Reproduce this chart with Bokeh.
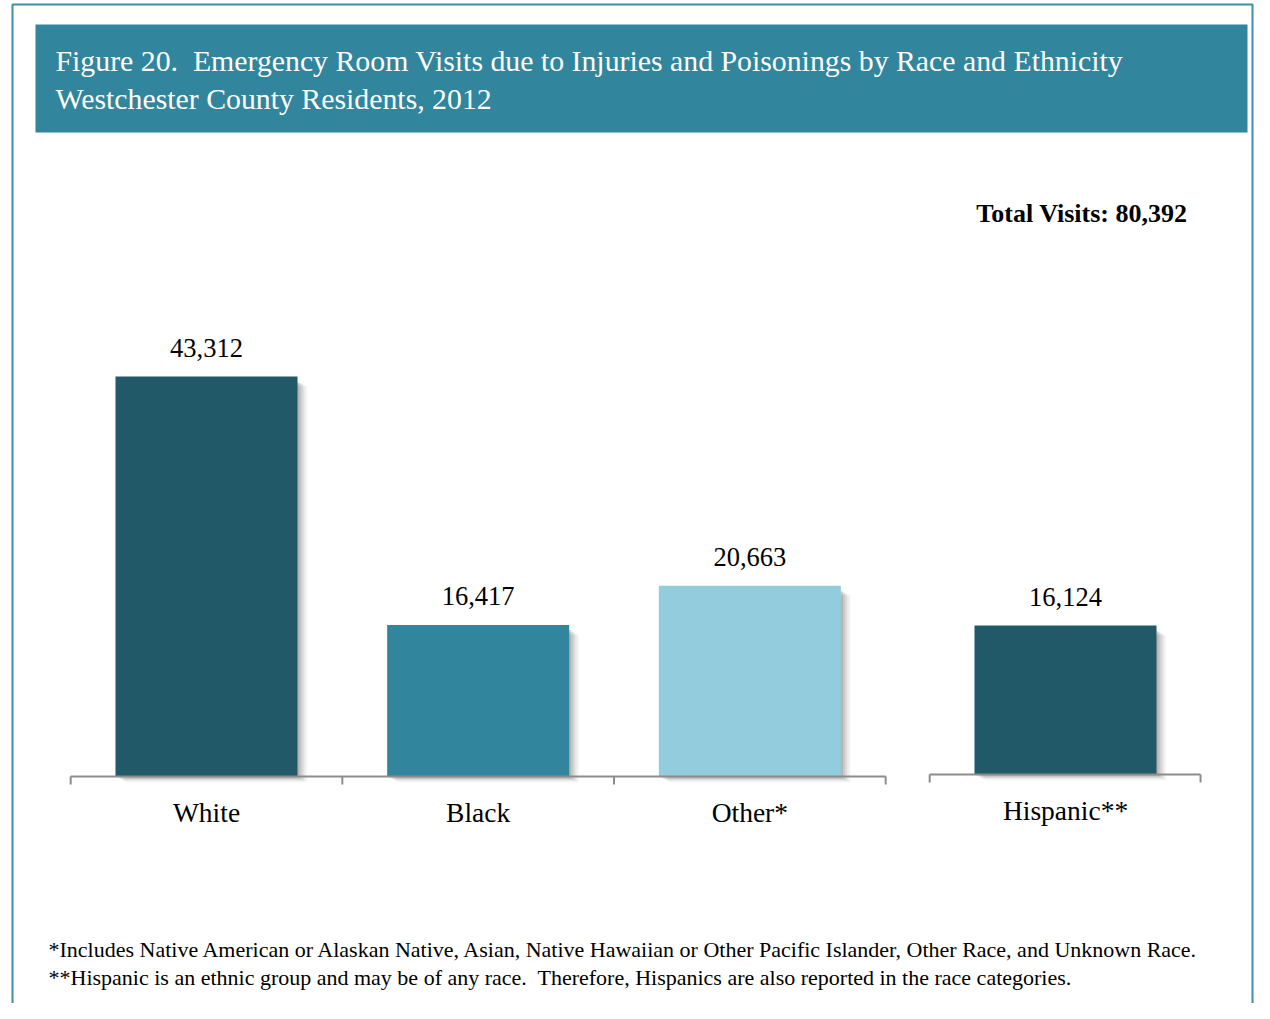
from bokeh.plotting import figure
from bokeh.models import Range1d
from bokeh.core.properties import value
from bokeh.embed import file_html
from bokeh.resources import INLINE

# ---------------- data ----------------
race_categories = ["White", "Black", "Other*"]
race_visits = [43312, 16417, 20663]
eth_categories = ["Hispanic**"]
eth_visits = [16124]
total_visits = 80392

NB = "\u00a0"
title_lines = [
    "Figure 20." + NB + " Emergency Room Visits due to Injuries and Poisonings by Race and Ethnicity",
    "Westchester County Residents, 2012",
]
footnotes = [
    "*Includes Native American or Alaskan Native, Asian, Native Hawaiian or Other Pacific Islander, Other Race, and Unknown Race.",
    "**Hispanic is an ethnic group and may be of any race." + NB + " Therefore, Hispanics are also reported in the race categories.",
]

race_colors = ["#215968", "#31859C", "#93CDDD"]
eth_colors = ["#215968"]

# ---------------- layout / scales ----------------
W, H = 1254, 1003
MARGIN = 0
XU = 271.67                 # pixels per category
YS = 400.0 / 43312.0        # pixels per visit
X0_PAGE = 206               # page x of first category centre
BASE_PAGE = 776             # page y of baseline
x_start = -(X0_PAGE - MARGIN) / XU
x_end = x_start + W / XU
y_start = -(H - (BASE_PAGE - MARGIN)) / YS
y_end = y_start + H / YS


def X(px):
    return x_start + (px - MARGIN) / XU


def Y(py):
    return y_start + (H - (py - MARGIN)) / YS


group_gap = 44 / XU
bar_w = 0.67
eth_lift = 2 / YS

FONT = value("Liberation Serif")

p = figure(width=W, height=H, x_range=Range1d(x_start, x_end), y_range=Range1d(y_start, y_end),
           output_backend="svg", toolbar_location=None, x_axis_type=None, y_axis_type=None,
           min_border=0, min_border_left=0, min_border_right=0, min_border_top=0, min_border_bottom=0,
           outline_line_color=None, background_fill_color="white", border_fill_color="white")

# outer frame
p.line(x=[X(12), X(12), X(1252), X(1252)], y=[Y(1030), Y(4), Y(4), Y(1030)],
       line_color="#3F8FA6", line_width=2)

# title band
p.quad(left=[X(35)], right=[X(1247)], top=[Y(24)], bottom=[Y(132)],
       fill_color="#31859C", line_color=None)
p.text(x=[X(55), X(55)], y=[Y(60), Y(98)], text=title_lines, text_color="white",
       text_font=FONT, text_font_size="29.8px", text_align="left", text_baseline="alphabetic")

# total
p.text(x=[X(1187)], y=[Y(213)], text=[f"Total Visits: {total_visits:,}"], text_color="black",
       text_font=FONT, text_font_size="26px", text_font_style="bold",
       text_align="right", text_baseline="alphabetic")

# positions
race_x = list(range(len(race_categories)))
eth_x = [len(race_categories) + group_gap + i for i in range(len(eth_categories))]
eth_base = [eth_lift] * len(eth_categories)
race_base = [0] * len(race_categories)

all_x = race_x + eth_x
all_base = race_base + eth_base
all_vals = race_visits + eth_visits
all_tops = [b + v for b, v in zip(all_base, all_vals)]
all_colors = race_colors + eth_colors
all_cats = race_categories + eth_categories

# shadows
for k, a in [(2, 0.10), (4, 0.08), (6, 0.07), (8, 0.05), (10, 0.03)]:
    dx = k / XU
    dy = (k * 0.6) / YS
    p.quad(left=[x - bar_w / 2 + dx for x in all_x], right=[x + bar_w / 2 + dx for x in all_x],
           top=[t - dy - 4 / YS for t in all_tops], bottom=[b - dy for b in all_base],
           fill_color="black", fill_alpha=a, line_color=None)

# bars
p.vbar(x=all_x, top=all_tops, bottom=all_base, width=bar_w, fill_color=all_colors, line_color=None)

# axes (category boundaries)
race_edges = [x - 0.5 for x in race_x] + [race_x[-1] + 0.5]
eth_edges = [eth_x[0] - 0.5, eth_x[-1] + 0.497]
tick = 8 / YS
AX = "#8C8C8C"
p.line(x=[race_edges[0], race_edges[-1]], y=[0, 0], line_color=AX, line_width=2)
p.segment(x0=race_edges, y0=[0] * len(race_edges), x1=race_edges, y1=[-tick] * len(race_edges),
          line_color=AX, line_width=2)
p.line(x=[eth_edges[0], eth_edges[-1]], y=[eth_lift, eth_lift], line_color=AX, line_width=2)
p.segment(x0=eth_edges, y0=[eth_lift] * 2, x1=eth_edges, y1=[eth_lift - tick] * 2,
          line_color=AX, line_width=2)

# value labels
p.text(x=all_x, y=all_tops, text=[f"{v:,}" for v in all_vals], text_color="black",
       text_font=FONT, text_font_size="26.5px", text_align="center", text_baseline="alphabetic",
       y_offset=-29)

# category labels
p.text(x=all_x, y=all_base, text=all_cats, text_color="black",
       text_font=FONT, text_font_size="27.5px", text_align="center", text_baseline="alphabetic",
       y_offset=36)

# footnotes
p.text(x=[X(48), X(48)], y=[Y(949), Y(977)], text=footnotes, text_color="black",
       text_font=FONT, text_font_size="22px", text_align="left", text_baseline="alphabetic")

open("out.html", "w").write(file_html(p, INLINE))
